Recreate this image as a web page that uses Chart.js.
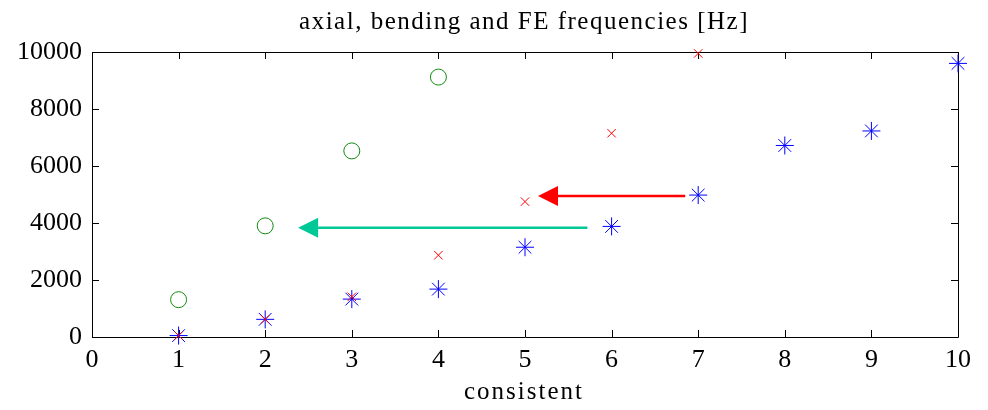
<!DOCTYPE html>
<html>
<head>
<meta charset="utf-8">
<script src="https://cdn.jsdelivr.net/npm/chart.js@4.4.1/dist/chart.umd.min.js"></script>
<style>
  html, body { margin: 0; padding: 0; background: #fff; }
  #wrap { width: 988px; height: 410px; }
</style>
</head>
<body>
<div id="wrap"><canvas id="freqChart"></canvas></div>
<script>
// values
const modeNumbers = [1, 2, 3, 4, 5, 6, 7, 8, 9, 10];
const feFreq      = [50, 620, 1330, 1680, 3150, 3880, 4980, 6720, 7230, 9600];
const bendingFreq = [50, 620, 1410, 2870, 4750, 7150, 9950];
const axialFreq   = [1310, 3900, 6530, 9120];

// arrows: [startX, endX, y]
const redArrow  = [6.85, 5.15, 4950];
const cyanArrow = [5.72, 2.38, 3830];

const xTicks = [0, 1, 2, 3, 4, 5, 6, 7, 8, 9, 10];
const yTicks = [0, 2000, 4000, 6000, 8000, 10000];

const titleText = 'axial, bending and FE frequencies [Hz]';
const xLabelText = 'consistent';

const serif = "'Liberation Serif', 'DejaVu Serif', serif";

function toPoints(xs, ys) {
    return ys.map((y, i) => ({ x: xs[i], y: y }));
}

// box with inward ticks, the matlab way (drawn under the markers)
const frameTicks = {
    id: 'frameTicks',
    beforeDatasetsDraw(chart) {
        const ctx = chart.ctx;
        const a = chart.chartArea;
        const xs = chart.scales.x, ys = chart.scales.y;
        const len = 7;
        ctx.save();
        ctx.strokeStyle = '#000';
        ctx.lineWidth = 1;
        ctx.beginPath();
        ctx.rect(Math.round(a.left) + 0.5, Math.round(a.top) + 0.5,
                 Math.round(a.right - a.left), Math.round(a.bottom - a.top));
        xTicks.forEach(v => {
            const px = Math.round(xs.getPixelForValue(v)) + 0.5;
            ctx.moveTo(px, a.bottom); ctx.lineTo(px, a.bottom - len);
            ctx.moveTo(px, a.top); ctx.lineTo(px, a.top + len);
        });
        yTicks.forEach(v => {
            const py = Math.round(ys.getPixelForValue(v)) + 0.5;
            ctx.moveTo(a.left, py); ctx.lineTo(a.left + len, py);
            ctx.moveTo(a.right, py); ctx.lineTo(a.right - len, py);
        });
        ctx.stroke();
        ctx.restore();
    }
};

// title and x label, drawn with the wide letter spacing of the original
const spacedTexts = {
    id: 'spacedTexts',
    afterDraw(chart) {
        const ctx = chart.ctx;
        const a = chart.chartArea;
        const mid = (a.left + a.right) / 2;
        ctx.save();
        ctx.fillStyle = '#000';
        ctx.textAlign = 'center';
        ctx.textBaseline = 'middle';
        ctx.font = '25px ' + serif;
        ctx.letterSpacing = '1.5px';
        ctx.fillText(titleText, mid - 1, 22);
        ctx.letterSpacing = '2px';
        ctx.fillText(xLabelText, mid - 1, 392);
        ctx.restore();
    }
};

function drawArrow(chart, arr, color) {
    const ctx = chart.ctx;
    const xs = chart.scales.x, ys = chart.scales.y;
    const x0 = xs.getPixelForValue(arr[0]);
    const x1 = xs.getPixelForValue(arr[1]);
    const y = ys.getPixelForValue(arr[2]);
    const head = 20, half = 10;
    ctx.save();
    ctx.strokeStyle = color;
    ctx.fillStyle = color;
    ctx.lineWidth = 2.5;
    ctx.beginPath();
    ctx.moveTo(x0, y);
    ctx.lineTo(x1 + head, y);
    ctx.stroke();
    ctx.beginPath();
    ctx.moveTo(x1, y);
    ctx.lineTo(x1 + head, y - half);
    ctx.lineTo(x1 + head, y + half);
    ctx.closePath();
    ctx.fill();
    ctx.restore();
}

const arrows = {
    id: 'arrows',
    afterDatasetsDraw(chart) {
        drawArrow(chart, redArrow, '#ff0000');
        drawArrow(chart, cyanArrow, '#00c896');
    }
};

const ctx = document.getElementById('freqChart').getContext('2d');
new Chart(ctx, {
    type: 'scatter',
    data: {
        datasets: [
            {
                label: 'bending',
                data: toPoints(modeNumbers, bendingFreq),
                pointStyle: 'crossRot',
                pointRadius: 6,
                borderColor: '#ff0000',
                backgroundColor: '#ff0000',
                pointBorderWidth: 1,
                clip: false,
                order: 1
            },
            {
                label: 'FE',
                data: toPoints(modeNumbers, feFreq),
                pointStyle: 'star',
                pointRadius: 9,
                borderColor: '#0000ff',
                backgroundColor: '#0000ff',
                pointBorderWidth: 1,
                clip: false,
                order: 2
            },
            {
                label: 'axial',
                data: toPoints(modeNumbers, axialFreq),
                pointStyle: 'circle',
                pointRadius: 8,
                borderColor: '#108a10',
                backgroundColor: 'rgba(0,0,0,0)',
                pointBorderWidth: 1,
                clip: false,
                order: 3
            }
        ]
    },
    options: {
        responsive: true,
        maintainAspectRatio: false,
        animation: false,
        events: [],
        layout: { padding: { left: 0, right: 30, top: 52, bottom: 0 } },
        plugins: {
            legend: { display: false },
            tooltip: { enabled: false },
            title: { display: false }
        },
        scales: {
            x: {
                type: 'linear',
                min: 0,
                max: 10,
                afterBuildTicks: s => { s.ticks = xTicks.map(v => ({ value: v })); },
                afterFit: s => { s.height = 73; },
                grid: { display: false, drawTicks: false },
                border: { display: false },
                ticks: {
                    color: '#000',
                    padding: 8,
                    maxRotation: 0,
                    font: { family: serif, size: 26 }
                }
            },
            y: {
                type: 'linear',
                min: 0,
                max: 10000,
                afterBuildTicks: s => { s.ticks = yTicks.map(v => ({ value: v })); },
                afterFit: s => { s.width = 92; },
                grid: { display: false, drawTicks: false },
                border: { display: false },
                ticks: {
                    color: '#000',
                    padding: 10,
                    font: { family: serif, size: 26 },
                    callback: v => String(v)
                }
            }
        }
    },
    plugins: [frameTicks, arrows, spacedTexts]
});
</script>
</body>
</html>
